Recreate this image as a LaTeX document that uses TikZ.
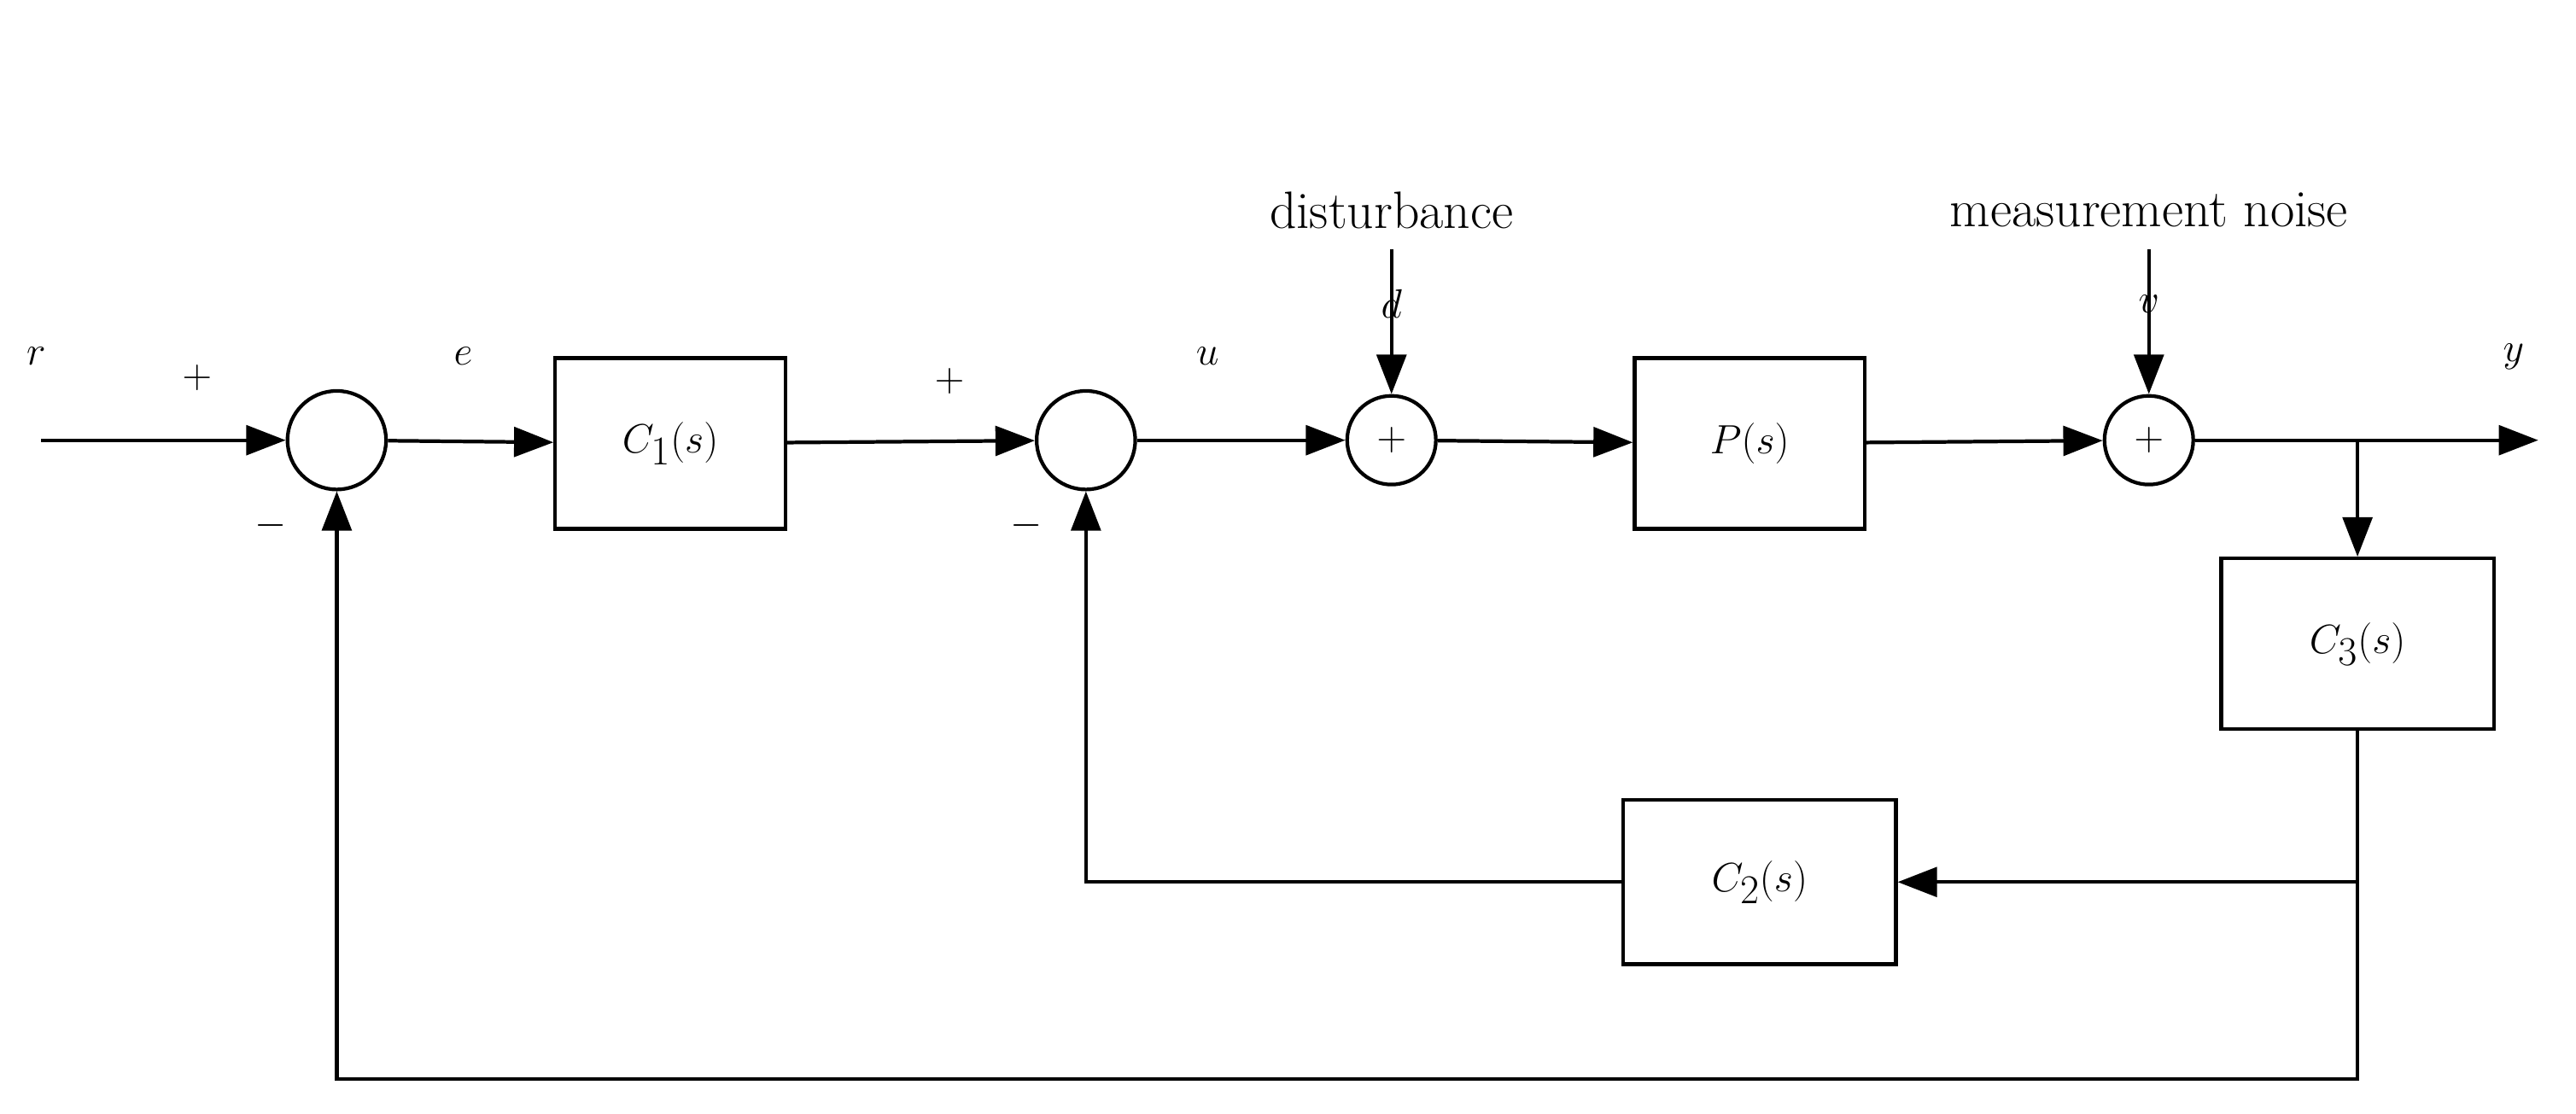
\documentclass[tikz,border=0pt]{standalone}
\usetikzlibrary{arrows.meta}
\begin{document}
\begin{tikzpicture}[x=1pt,y=-1pt,line width=2.2pt,
  blk/.style={draw,minimum width=140pt,minimum height=104pt,inner sep=0pt,font=\fontsize{34}{40}\selectfont},
  sum/.style={draw,circle,minimum size=#1,inner sep=0pt,font=\fontsize{34}{40}\selectfont},
  lbl/.style={font=\fontsize{32}{38}\selectfont},
  >={Triangle[length=24pt,width=18pt]}]
\useasboundingbox (0,0) rectangle (1568,678);
% blocks and junctions
\node[sum=60pt] (s1) at (205,268) {};
\node[sum=60pt] (s2) at (661,268) {};
\node[sum=54pt] (s3) at (847,268) {$+$};
\node[sum=54pt] (s4) at (1308,268) {$+$};
\node[blk] (c1) at (408,270) {$C_1(s)$};
\node[blk] (p) at (1065,270) {$P(s)$};
\node[blk,minimum width=166pt] (c3) at (1435,392) {$C_3(s)$};
\node[blk,minimum width=166pt,minimum height=100pt] (c2) at (1071,537) {$C_2(s)$};
% free ends
\coordinate (in) at (25,268);
\coordinate (out) at (1545,268);
\coordinate (br) at (1435,268);
\coordinate (dtop) at (847,152);
\coordinate (vtop) at (1308,152);
\coordinate (fb) at (1435,537);
\coordinate (fb2) at (1435,657);
% labels
\node[lbl] (lr) at (22,217) {$r$};
\node[lbl] (lp1) at (120,230) {$+$};
\node[lbl] (lm1) at (165,320) {$-$};
\node[lbl] (le) at (282,217) {$e$};
\node[lbl] (lp2) at (578,232) {$+$};
\node[lbl] (lm2) at (625,320) {$-$};
\node[lbl] (lu) at (735,217) {$u$};
\node[lbl] (ld) at (847,185) {$d$};
\node[lbl] (ldist) at (847,128) {disturbance};
\node[lbl] (lv) at (1308,185) {$v$};
\node[lbl] (lnoise) at (1308,128) {measurement noise};
\node[lbl] (ly) at (1530,217) {$y$};
% connectors
\draw[->] (in) -- (s1);
\draw[->] (s1) -- (c1);
\draw[->] (c1) -- (s2);
\draw[->] (s2) -- (s3);
\draw[->] (s3) -- (p);
\draw[->] (p) -- (s4);
\draw[->] (s4) -- (out);
\draw[->] (dtop) -- (s3);
\draw[->] (vtop) -- (s4);
\draw[->] (br) -- (c3);
\draw (c3) -- (fb);
\draw[->] (fb) -- (c2);
\draw[->] (c2.west) -| (s2.south);
\draw[->] (fb) -- (fb2) -| (s1.south);
\end{tikzpicture}
\end{document}
